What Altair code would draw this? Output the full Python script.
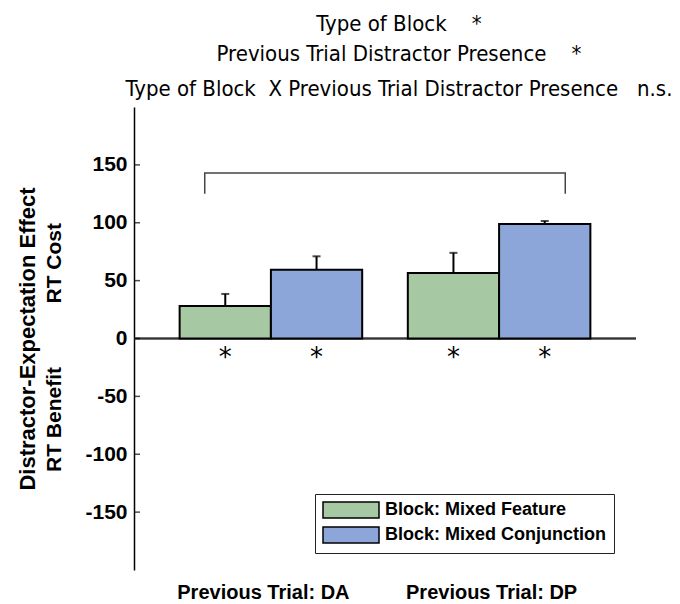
import altair as alt
import pandas as pd

# ---- data ----
groups = ["Previous Trial: DA", "Previous Trial: DP"]
blocks = ["Block: Mixed Feature", "Block: Mixed Conjunction"]
feature_means = [28, 56.5]
conjunction_means = [59.5, 99]
feature_err = [10.5, 17.5]
conjunction_err = [11.5, 2.5]
bar_sig = ["*", "*", "*", "*"]  # feature DA, conj DA, feature DP, conj DP
y_ticks = [-150, -100, -50, 0, 50, 100, 150]
effect_labels = ["RT Cost", "RT Benefit"]
effect_label_y = [65, -70]
bracket_x = [0.71, 2.29]
bracket_y = [125, 143]
star_y = -12
title_lines = [
    "Type of Block\u00a0\u00a0\u00a0\u00a0*",
    "Previous Trial Distractor Presence\u00a0\u00a0\u00a0\u00a0*",
]
subtitle_line = "Type of Block\u00a0\u00a0X Previous Trial Distractor Presence\u00a0\u00a0\u00a0n.s."
colors = ["#a6c9a4", "#8ca6d9"]

# ---- tables ----
BAR_W = 0.4
rows = []
means = [feature_means, conjunction_means]
errs = [feature_err, conjunction_err]
k = 0
for gi, g in enumerate(groups):
    for bi, b in enumerate(blocks):
        x0 = (gi + 1) - BAR_W + BAR_W * bi
        rows.append(dict(group=g, block=b, x0=x0, x1=x0 + BAR_W, xc=x0 + BAR_W / 2,
                         mean=means[bi][gi], top=means[bi][gi] + errs[bi][gi],
                         sig=bar_sig[k], sy=star_y))
        k += 1
bars_df = pd.DataFrame(rows)

bracket_df = pd.DataFrame({
    "x": [bracket_x[0], bracket_x[0], bracket_x[1], bracket_x[1]],
    "y": [bracket_y[0], bracket_y[1], bracket_y[1], bracket_y[0]],
    "o": [0, 1, 2, 3],
})
ticks_df = pd.DataFrame({"v": y_ticks})
effect_df = pd.DataFrame({"t": effect_labels, "y": effect_label_y})

label_expr = f"datum.value == 1 ? '{groups[0]}' : '{groups[1]}'"

xscale = alt.Scale(domain=[0.4, 2.6], nice=False, zero=False)
yscale = alt.Scale(domain=[-200, 200], nice=False)

bold = "Liberation Sans"
title_font = "DejaVu Sans Condensed, Liberation Sans Narrow, DejaVu Sans"

yaxis = alt.Axis(
    values=y_ticks, ticks=False, grid=False, domainColor="black", domainWidth=1.5,
    labelExpr="datum.value < 0 ? '-' + abs(datum.value) : '' + datum.value",
    labelFont=bold, labelFontWeight="bold", labelFontSize=21, labelColor="black",
    labelPadding=7, title="Distractor-Expectation Effect", titleFont=bold,
    titleFontWeight="bold", titleFontSize=22, titleColor="black", titleAngle=270,
    titleAlign="center", titleBaseline="middle", titleX=-107, titleY=231.5,
)
xaxis = alt.Axis(
    values=[1, 2], labelExpr=label_expr, domain=False, ticks=False, grid=False,
    labelFont=bold, labelFontWeight="bold", labelFontSize=20, labelColor="black",
    labelPadding=12, labelOffset=-8, title=None,
)


def X(f):
    return alt.X(f, scale=xscale, axis=xaxis)


def Y(f):
    return alt.Y(f, scale=yscale, axis=yaxis)


zero = alt.Chart(bars_df).mark_rule(color="#333333", strokeWidth=1.5).encode(
    y=alt.datum(0, scale=yscale, axis=yaxis)
)

bars = alt.Chart(bars_df).mark_bar(stroke="black", strokeWidth=2).encode(
    x=X("x0:Q"),
    x2="x1:Q",
    y=Y("mean:Q"),
    y2=alt.datum(0),
    color=alt.Color(
        "block:N",
        scale=alt.Scale(domain=blocks, range=colors),
        legend=alt.Legend(
            title=None, orient="none", legendX=181, legendY=387,
            fillColor="white", strokeColor="#222222", padding=7,
            symbolType="M-3.5,-1H3.5V1H-3.5Z", symbolSize=256,
            symbolOffset=20, labelOffset=25, labelLimit=400,
            symbolStrokeColor="black", symbolStrokeWidth=1.5, symbolOpacity=1,
            labelFont=bold, labelFontWeight="bold", labelFontSize=18,
            labelColor="black", rowPadding=3,
        ),
    ),
)

err = alt.Chart(bars_df).mark_rule(color="black", strokeWidth=2).encode(
    x=X("xc:Q"), y=Y("mean:Q"), y2="top:Q",
)
caps = alt.Chart(bars_df).mark_tick(color="black", orient="horizontal", size=8, thickness=2).encode(
    x=X("xc:Q"), y=Y("top:Q"),
)
stars = alt.Chart(bars_df).mark_text(font="DejaVu Sans", fontSize=26, baseline="middle", dy=6, color="black").encode(
    x=X("xc:Q"), y=Y("sy:Q"), text="sig:N",
)
bracket = alt.Chart(bracket_df).mark_line(color="#444444", strokeWidth=1.5).encode(
    x=X("x:Q"), y=Y("y:Q"), order="o:Q",
)
yt = alt.Chart(ticks_df).mark_tick(color="black", orient="horizontal", size=6, thickness=1.5).encode(
    y=Y("v:Q"), x=alt.value(3),
)
effect = alt.Chart(effect_df).mark_text(
    font=bold, fontWeight="bold", fontSize=21, angle=270, align="center",
    baseline="middle", color="black",
).encode(
    y=Y("y:Q"), x=alt.value(-79), text="t:N",
)

chart = alt.layer(zero, bars, err, caps, stars, bracket, yt, effect).properties(
    width=502, height=463,
    padding={"left": 134, "top": 107, "right": 44, "bottom": 34},
    autosize=alt.AutoSizeParams(type="none"),
    title=alt.TitleParams(
        text=title_lines, font=title_font, fontSize=22, fontWeight="normal",
        color="black", anchor="middle", lineHeight=30, offset=6, dx=14,
        subtitle=subtitle_line, subtitleFont=title_font, subtitleFontSize=22,
        subtitleColor="black", subtitlePadding=13,
    ),
).configure(background="white").configure_view(stroke=None)

chart.save("out.html", embed_options={"renderer": "svg", "actions": False})
